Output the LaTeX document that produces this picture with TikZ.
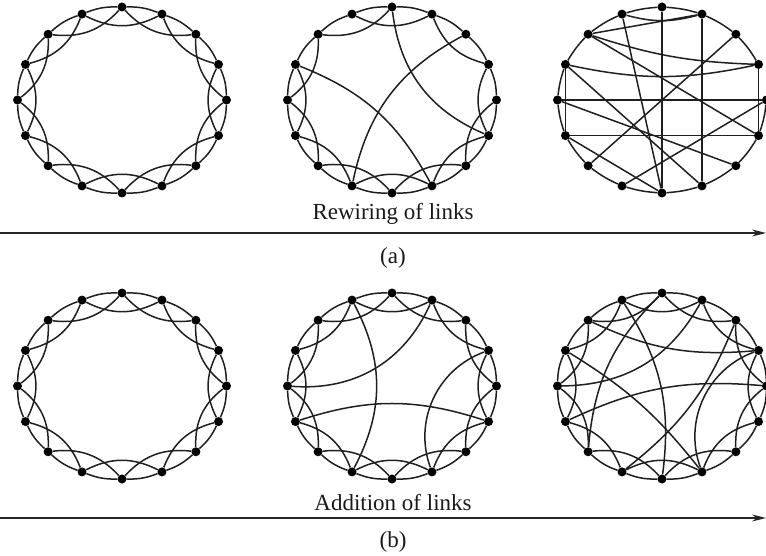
\documentclass[tikz,border=0pt]{standalone}
\usepackage{fontspec}
\setmainfont{Liberation Serif}
\usetikzlibrary{arrows.meta}
\newcommand\myring[3]{%
  \foreach \i in {0,...,15}{%
    \node[dot] (#1\i) at ({#2+104.5*sin(22.5*\i)},{#3-93*cos(22.5*\i)}) {};}}
\newcommand\myouter[2]{%
  \foreach \i in {#2}{%
    \pgfmathtruncatemacro\j{mod(\i+1,16)}%
    \draw[edge] (#1\i) to[bend left=11] (#1\j);}}
\newcommand\myinner[2]{%
  \foreach \i in {#2}{%
    \pgfmathtruncatemacro\j{mod(\i+2,16)}%
    \draw[edge] (#1\i) to[bend right=27] (#1\j);}}
\begin{document}
\begin{tikzpicture}[x=1pt,y=-1pt,
  dot/.style={circle,fill=black,inner sep=0pt,minimum size=9pt},
  edge/.style={line width=1.5pt,draw=black!88},
  axis/.style={line width=1.5pt,draw=black!85,-{Stealth[length=14pt,width=7pt]}},
  lbl/.style={font=\fontsize{23}{27}\selectfont,inner sep=0pt,anchor=base,text=black!90}]
\useasboundingbox (0,0) rectangle (766,556);
\myring{a}{122}{100} \myring{b}{392}{100} \myring{c}{662}{100}
\myring{d}{122}{386} \myring{e}{392}{386} \myring{f}{662}{386}
% (a) left: regular ring lattice
\myouter{a}{0,...,15} \myinner{a}{0,...,15}
% (a) middle: a few rewired links
\myouter{b}{0,...,15} \myinner{b}{1,3,4,5,6,7,8,9,10,11,12,14,15}
\draw[edge] (b0) to[bend right=30] (b5);
\draw[edge] (b2) to[bend right=25] (b9);
\draw[edge] (b13) to[bend left=20] (b7);
% (a) right: random graph
\foreach \p/\q in {0/1,15/0,1/2,2/3,14/15,13/14,12/13,11/12,10/11,9/10,8/9,7/8,6/7,5/6,4/5}
  \draw[edge] (c\p) to[bend left=6] (c\q);
\foreach \p/\q in {0/8,1/7,15/8,12/4,11/5,14/5,10/2,9/4,7/13,11/8,13/11,3/5,14/1,6/12}
  \draw[edge] (c\p) -- (c\q);
\draw[edge] (c15) to[bend right=15] (c1);
\draw[edge] (c13) to[bend right=12] (c3);
\draw[edge] (c14) to[bend right=8] (c3);
% (b) left: regular ring lattice
\myouter{d}{0,...,15} \myinner{d}{0,...,15}
% (b) middle: a few added links
\myouter{e}{0,...,15} \myinner{e}{0,...,15}
\draw[edge] (e15) to[bend left=28] (e9);
\draw[edge] (e1) to[bend left=35] (e12);
\draw[edge] (e11) to[bend left=18] (e5);
\draw[edge] (e3) to[bend right=45] (e7);
% (b) right: more added links
\myouter{f}{0,...,15} \myinner{f}{0,...,15}
\draw[edge] (f15) to[bend left=20] (f8);
\draw[edge] (f14) to[bend right=15] (f3);
\draw[edge] (f1) to[bend left=30] (f12);
\draw[edge] (f11) to[bend left=15] (f4);
\draw[edge] (f13) to[bend left=10] (f7);
\draw[edge] (f3) to[bend right=45] (f7);
\draw[edge] (f9) to[bend right=15] (f2);
\draw[edge] (f10) to[bend left=20] (f0);
% arrows and labels
\coordinate (s1) at (0,233); \coordinate (e1end) at (766,233);
\coordinate (s2) at (0,518); \coordinate (e2end) at (766,518);
\draw[axis] (s1) -- (e1end);
\draw[axis] (s2) -- (e2end);
\node[lbl] (la) at (393,220) {Rewiring of links};
\node[lbl] (ca) at (393,264) {(a)};
\node[lbl] (lb) at (393,510) {Addition of links};
\node[lbl] (cb) at (393,547) {(b)};
\end{tikzpicture}
\end{document}
